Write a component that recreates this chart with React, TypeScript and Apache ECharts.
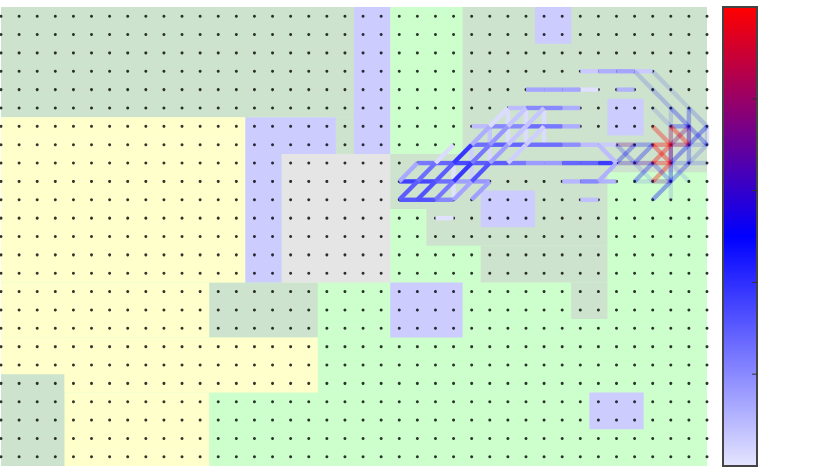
import React, { useEffect, useRef } from "react";
import * as echarts from "echarts";

const columnIndex = [0,1,2,3,4,5,6,7,8,9,10,11,12,13,14,15,16,17,18,19,20,21,22,23,24,25,26,27,28,29,30,31,32,33,34,35,36,37,38,39];
const rowIndex = [0,1,2,3,4,5,6,7,8,9,10,11,12,13,14,15,16,17,18,19,20,21,22,23,24];
const colourBarTicks = [0.2, 0.4, 0.6, 0.8];

// [column start, column end, row start, row end]
const lightGreenAreas = [[0,39,-0.5,24.5]];
const mutedGreenAreas = [
  [0,19.5,-0.5,5.5],[18.5,19.5,5.5,7.5],[25.5,39,-0.5,8.5],[21.5,33.5,7.5,10.5],[23.5,33.5,10.5,12.5],
  [26.5,33.5,12.5,14.5],[31.5,33.5,14.5,16.5],[11.5,17.5,14.5,17.5],
];
const yellowAreas = [[0,13.5,5.5,14.5],[0,11.5,14.5,17.5],[0,17.5,17.5,20.5],[3.5,11.5,20.5,24.5],[0,3.5,17.5,19.5]];
const cornerGreenAreas = [[0,3.5,19.5,24.5]];
const lavenderAreas = [
  [19.5,21.5,-0.5,7.5],[29.5,31.5,-0.5,1.5],[33.5,35.5,4.5,6.5],[13.5,18.5,5.5,7.5],[13.5,15.5,7.5,14.5],
  [21.5,25.5,14.5,17.5],[26.5,29.5,9.5,11.5],[32.5,35.5,20.5,22.5],
];
const greyAreas = [[15.5,21.5,7.5,14.5]];

// [col a, row a, col b, row b, colour value, opacity]
const horizontalEdges = [
  [22,10,23,10,.31,1],[23,10,24,10,.32,1],[24,10,25,10,.2,1],
  [22,9,23,9,.36,1],[23,9,24,9,.34,1],[24,9,25,9,.26,1],[25,9,26,9,.15,1],[26,9,27,9,.17,1],
  [23,8,24,8,.24,1],[24,8,25,8,.28,1],[25,8,26,8,.34,1],[26,8,27,8,.3,1],[27,8,28,8,.3,1],[28,8,29,8,.24,1],[29,8,30,8,.16,1],[30,8,31,8,.16,1],[31,8,32,8,.28,1],[32,8,33,8,.28,1],[33,8,34,8,.37,1],
  [34,8,35,8,.62,.28],[35,8,36,8,.66,.3],[36,8,37,8,1,.33],[37,8,38,8,.5,.16],[38,8,39,8,.5,.14],
  [26,7,27,7,.26,1],[27,7,28,7,.29,1],[28,7,29,7,.28,1],[29,7,30,7,.26,1],[30,7,31,7,.26,1],[31,7,32,7,.19,1],[32,7,33,7,.09,1],[33,7,34,7,.06,.9],
  [34,7,35,7,.72,.28],[35,7,36,7,.5,.26],[36,7,37,7,1,.36],[37,7,38,7,.78,.35],[38,7,39,7,.5,.14],
  [26,6,27,6,.09,1],[27,6,28,6,.2,1],[28,6,29,6,.2,1],[29,6,30,6,.26,1],[30,6,31,6,.24,1],[31,6,32,6,.12,1],[37,6,38,6,.5,.3],
  [28,5,29,5,.09,1],[29,5,30,5,.2,1],[30,5,31,5,.2,1],[31,5,32,5,.12,1],
  [29,4,30,4,.14,1],[30,4,31,4,.14,1],[31,4,32,4,.14,1],[32,4,33,4,.01,1],[34,4,35,4,.12,.9],
  [32,3,33,3,.06,1],[33,3,34,3,.12,1],[34,3,35,3,.14,1],[35,3,36,3,.06,1],
  [31,9,32,9,.1,1],[32,9,33,9,.2,1],[33,9,34,9,.12,.9],[35,9,36,9,.5,.1],[36,9,37,9,.7,.25],
  [32,10,33,10,.08,1],[24,11,25,11,.01,1],
];
const risingEdges = [
  [22,9,23,8,.13,1],[22,10,23,9,.3,1],[23,10,24,9,.32,1],[24,10,25,9,.24,1],[23,9,24,8,.26,1],[24,9,25,8,.3,1],
  [25,10,26,9,.14,1],[26,10,27,9,.15,1],[25,9,26,8,.38,1],[25,8,26,7,.38,1],[24,8,25,7,.02,1],[26,9,27,8,.32,1],
  [26,8,27,7,.24,1],[27,8,28,7,.15,1],[27,7,28,6,.17,1],[26,7,27,6,.12,1],[28,8,29,7,.05,1],[28,7,29,6,.07,1],
  [29,7,30,6,.05,1],[27,6,28,5,.02,1],[28,6,29,5,.07,1],[29,6,30,5,.07,1],
  [33,9,34,8,.12,.95],[34,8,35,7,.5,.3],[35,8,36,7,.5,.3],[35,9,36,8,.5,.3],[36,8,37,7,1,.36],[36,9,37,8,1,.35],
  [36,10,37,9,.5,.35],[37,9,38,8,.5,.28],[37,8,38,7,.5,.33],[38,7,39,6,.5,.32],[37,7,38,6,.75,.33],[38,8,39,7,.5,.14],
];
const fallingEdges = [
  [35,3,36,4,.5,.14],[36,3,37,4,.5,.12],[36,4,37,5,.5,.18],[37,4,38,5,.5,.1],[37,5,38,6,.5,.28],[38,5,39,6,.5,.16],
  [36,5,37,6,.5,.1],[33,7,34,8,.09,1],[34,7,35,8,.5,.2],[36,6,37,7,1,.33],[37,6,38,7,1,.36],[36,7,37,8,1,.36],
  [38,6,39,7,.5,.28],[36,8,37,9,.5,.22],[35,8,36,9,.5,.1],[37,8,38,9,.5,.1],
];
const verticalEdges = [
  [25,8,25,9,.01,1],[25,9,25,10,.01,1],[26,7,26,8,.05,1],[26,8,26,9,.05,1],[27,6,27,7,.07,1],[27,7,27,8,.03,1],
  [28,5,28,6,.02,1],[28,6,28,7,.02,1],[29,5,29,6,.02,1],[29,6,29,7,.02,1],[30,5,30,6,.02,1],[30,6,30,7,.02,1],
  [37,5,37,6,.5,.12],[37,6,37,7,.8,.35],[37,7,37,8,.72,.5],[37,8,37,9,.5,.32],[37,9,37,10,.5,.1],
  [38,5,38,6,.5,.28],[38,6,38,7,.65,.45],[38,7,38,8,.5,.26],[39,6,39,7,.5,.12],
];

const AREA_GREEN = "#ccffcc";
const AREA_MUTED = "#cde3cd";
const AREA_YELLOW = "#ffffcc";
const AREA_LAVENDER = "#ccccff";
const AREA_GREY = "#e5e5e5";

const paintAreas = [
  [lightGreenAreas, AREA_GREEN],
  [mutedGreenAreas, AREA_MUTED],
  [yellowAreas, AREA_YELLOW],
  [cornerGreenAreas, AREA_MUTED],
  [greyAreas, AREA_GREY],
  [lavenderAreas, AREA_LAVENDER],
] as const;

export default function App() {
  const ref = useRef<HTMLDivElement>(null);
  useEffect(() => {
    document.body.style.margin = "0";
    const chart = echarts.init(ref.current!, undefined, { renderer: "svg" });
    const areaData = paintAreas.flatMap(([list, colour]) =>
      (list as readonly number[][]).map((a) => ({ value: [...a], colour }))
    );
    const edges = [...verticalEdges, ...horizontalEdges, ...risingEdges, ...fallingEdges];
    const dots = rowIndex.flatMap((r) => columnIndex.map((c) => [c, r]));
    chart.setOption({
      animation: false,
      grid: [
        { left: 1, top: 7, width: 706, height: 459, show: false },
        { left: 723, top: 7, width: 34, height: 459, show: true, backgroundColor: "transparent", borderColor: "#444", borderWidth: 2, z: 10 },
      ],
      xAxis: [
        { type: "value", gridIndex: 0, min: 0, max: 39, show: false },
        { type: "value", gridIndex: 1, min: 0, max: 1, show: false },
      ],
      yAxis: [
        { type: "value", gridIndex: 0, min: -0.5, max: 24.5, inverse: true, show: false },
        { type: "value", gridIndex: 1, min: 0, max: 1, show: false },
      ],
      visualMap: {
        type: "continuous", seriesIndex: 1, dimension: 4, min: 0, max: 1,
        left: 723, top: 7, itemWidth: 34, itemHeight: 459, padding: 0,
        calculable: false, hoverLink: false, text: undefined, showLabel: false,
        inRange: { color: ["#e5e5ff", "#0000ff", "#ff0000"] },
      },
      tooltip: { show: false },
      series: [
        {
          type: "custom", xAxisIndex: 0, yAxisIndex: 0, z: 1, silent: true, clip: true,
          data: areaData,
          renderItem: (params: any, api: any) => {
            const a = api.coord([api.value(0), api.value(2)]);
            const b = api.coord([api.value(1), api.value(3)]);
            return {
              type: "rect",
              shape: { x: a[0], y: a[1], width: b[0] - a[0], height: b[1] - a[1] },
              style: { fill: (areaData[params.dataIndex] as any).colour, stroke: null },
            };
          },
        },
        {
          type: "custom", xAxisIndex: 0, yAxisIndex: 0, z: 3, silent: true, clip: false,
          dimensions: ["a", "b", "c", "d", "v", "o"],
          data: edges,
          renderItem: (_p: any, api: any) => {
            const a = api.coord([api.value(0), api.value(1)]);
            const b = api.coord([api.value(2), api.value(3)]);
            return {
              type: "line",
              shape: { x1: a[0], y1: a[1], x2: b[0], y2: b[1] },
              style: { stroke: api.visual("color"), lineWidth: 4.4, opacity: api.value(5), lineCap: "butt" },
            };
          },
        },
        {
          type: "scatter", xAxisIndex: 0, yAxisIndex: 0, z: 2, silent: true, clip: false,
          symbol: "circle", symbolSize: 3, itemStyle: { color: "#000" },
          data: dots,
        },
        {
          type: "custom", xAxisIndex: 1, yAxisIndex: 1, z: 20, silent: true, clip: false,
          data: colourBarTicks.map((t) => [1, t]),
          renderItem: (_p: any, api: any) => {
            const p = api.coord([api.value(0), api.value(1)]);
            return {
              type: "line",
              shape: { x1: p[0] - 5, y1: p[1], x2: p[0], y2: p[1] },
              style: { stroke: "#333", lineWidth: 1 },
            };
          },
        },
      ],
    });
    return () => chart.dispose();
  }, []);
  return <div ref={ref} style={{ width: 830, height: 476, overflow: "hidden" }} />;
}
